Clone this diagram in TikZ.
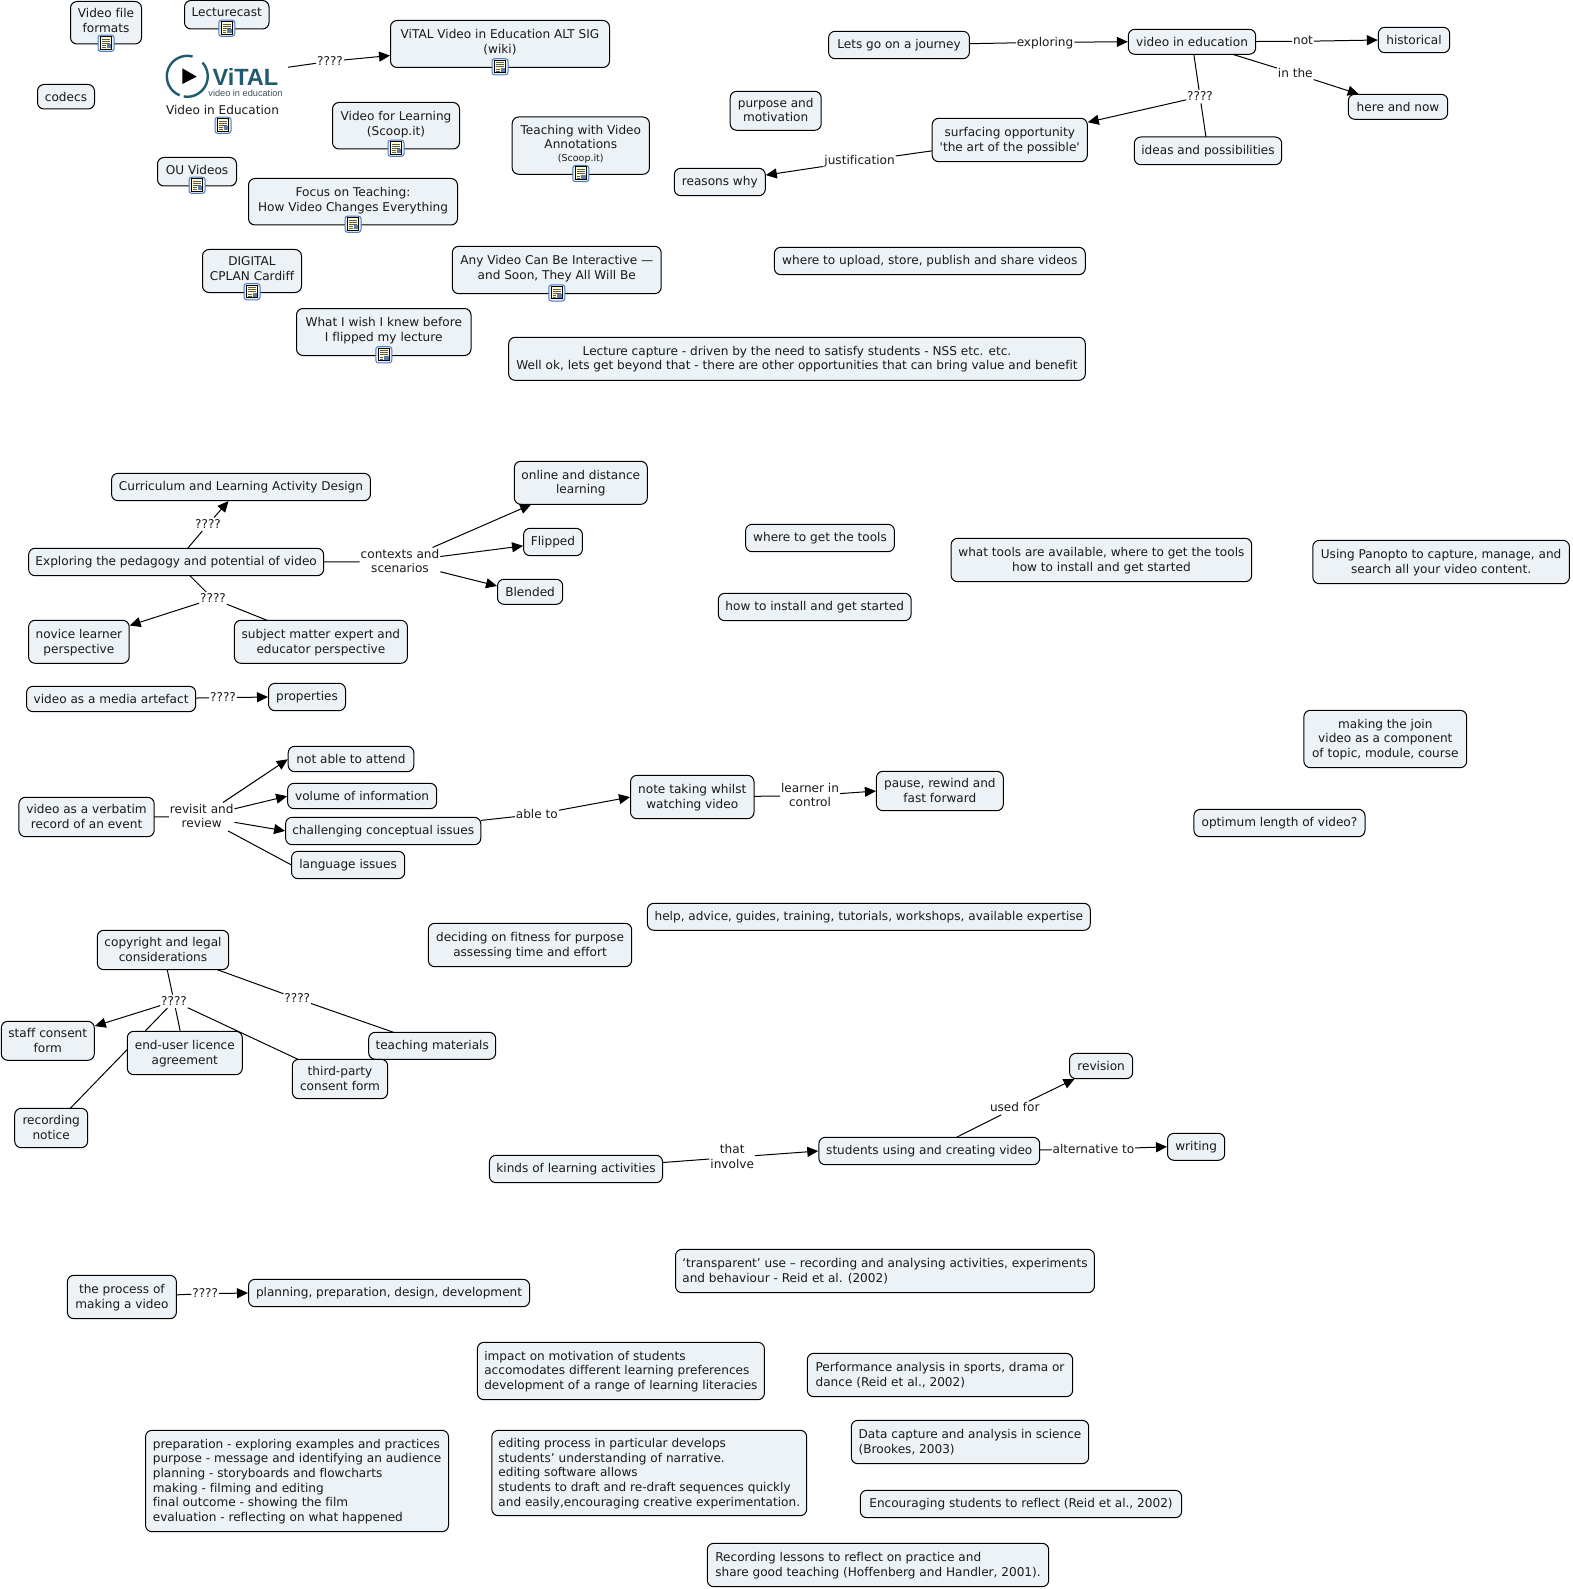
\documentclass[tikz,border=0pt]{standalone}
\usepackage{fontspec}
\newfontfamily\cmapfont{DejaVu Sans}[Ligatures=NoCommon]
\newfontfamily\logofont{Liberation Sans}
\usetikzlibrary{arrows.meta,backgrounds}
\definecolor{conceptfill}{HTML}{ECF2F5}
\definecolor{logoteal}{HTML}{1F5A6E}
\definecolor{logogrey}{HTML}{3D4F58}
\definecolor{iconblue}{HTML}{4A7CC4}
\tikzset{
  concept/.style={draw=black, line width=1pt, fill=conceptfill, rounded corners=6.5pt, align=center, inner sep=0pt, text=black!90, text depth=1.5pt, font=\cmapfont\fontsize{12.1}{14.7}\selectfont},
  iconbox/.style={concept, text depth=4.5pt},
  shortbox/.style={concept, text depth=0pt},
  leftbox/.style={concept, align=left},
  linklabel/.style={align=center, inner xsep=1pt, inner ysep=1.5pt, text=black!90, text depth=1.5pt, font=\cmapfont\fontsize{12.1}{14.7}\selectfont},
  plainlink/.style={draw=black, line width=1pt},
  arrowlink/.style={plainlink, -{Triangle[length=11pt,width=10pt]}, shorten >=0.5pt},
  resicon/.pic={
    \draw[draw=iconblue, fill=iconblue!12, line width=1pt, rounded corners=2.5pt] (-8,-7.3) rectangle (8,8.8);
    \draw[draw=black, fill=yellow!18, line width=0.7pt] (-5.5,-5) rectangle (5.5,7.5);
    \fill[iconblue!60!gray] (0.5,-4.5) rectangle (5,-0.5);
    \draw[black!65, line width=0.5pt] (-4,-3.5) -- (-0.5,-3.5) (-4,-1.5) -- (-0.5,-1.5) (-4,0.8) -- (4,0.8) (-4,2.8) -- (4,2.8) (-4,4.8) -- (4,4.8);
  }
}
\begin{document}
\begin{tikzpicture}[x=1pt, y=1pt, yscale=-1, inner sep=0pt, outer sep=0pt]
\useasboundingbox (0,0) rectangle (1572,1589);
\node[iconbox, minimum width=71pt, minimum height=42.5pt] (vff) at (106,22.75) {Video file\\formats};
\node[iconbox, minimum width=84.5pt, minimum height=28.5pt] (lecturecast) at (226.75,14.75) {Lecturecast};
\node[shortbox, minimum width=57pt, minimum height=24.5pt] (codecs) at (66,96.75) {codecs};
\node[minimum width=123pt, minimum height=48pt] (vital) at (226.5,76) {};
\node[linklabel, inner sep=0pt] (vitaltext) at (222.5,110.5) {Video in Education};
\node[iconbox, minimum width=127pt, minimum height=46.5pt] (vfl) at (396,125.75) {Video for Learning\\(Scoop.it)};
\node[iconbox, minimum width=79pt, minimum height=28.5pt] (ouvideos) at (197,171.75) {OU Videos};
\node[iconbox, minimum width=209pt, minimum height=46.5pt] (focus) at (353,201.75) {Focus on Teaching:\\How Video Changes Everything};
\node[iconbox, minimum width=99pt, minimum height=43pt] (digital) at (252,271) {DIGITAL\\CPLAN Cardiff};
\node[iconbox, minimum width=174.5pt, minimum height=47pt] (wish) at (383.75,332) {What I wish I knew before\\I flipped my lecture};
\node[iconbox, minimum width=219pt, minimum height=47pt] (wiki) at (500,44) {ViTAL Video in Education ALT SIG\\(wiki)};
\node[iconbox, minimum width=137.2pt, minimum height=57.3pt] (teaching) at (580.8,145.65) {Teaching with Video\\Annotations\\[-2pt]{\fontsize{9.5}{11}\selectfont (Scoop.it)}};
\node[iconbox, minimum width=208.9pt, minimum height=47.4pt] (anyvideo) at (556.75,270) {Any Video Can Be Interactive —\\and Soon, They All Will Be};
\node[concept, minimum width=576.7pt, minimum height=43pt] (capture) at (797,358.8) {Lecture capture - driven by the need to satisfy students - NSS etc. etc.\\Well ok, lets get beyond that - there are other opportunities that can bring value and benefit};
\node[concept, minimum width=140.8pt, minimum height=27.4pt] (journey) at (899,45) {Lets go on a journey};
\node[concept, minimum width=91pt, minimum height=39pt] (purpose) at (775.7,110.8) {purpose and\\motivation};
\node[concept, minimum width=155.1pt, minimum height=43.4pt] (surfacing) at (1009.75,140) {surfacing opportunity\\'the art of the possible'};
\node[concept, minimum width=91pt, minimum height=27.4pt] (reasons) at (719.8,182) {reasons why};
\node[concept, minimum width=311pt, minimum height=27.4pt] (upload) at (929.8,261) {where to upload, store, publish and share videos};
\node[shortbox, minimum width=127.4pt, minimum height=25pt] (videdu) at (1192,41.8) {video in education};
\node[shortbox, minimum width=71.4pt, minimum height=25.4pt] (historical) at (1414,40) {historical};
\node[shortbox, minimum width=99.4pt, minimum height=25pt] (herenow) at (1398,106.8) {here and now};
\node[concept, minimum width=147.4pt, minimum height=27.7pt] (ideas) at (1208,150.85) {ideas and possibilities};
\node[concept, minimum width=258.9pt, minimum height=27.4pt] (curriculum) at (241,487) {Curriculum and Learning Activity Design};
\node[concept, minimum width=295.1pt, minimum height=27.4pt] (exploring) at (176.15,562) {Exploring the pedagogy and potential of video};
\node[concept, minimum width=133pt, minimum height=43pt] (online) at (580.8,482.8) {online and distance\\learning};
\node[concept, minimum width=58.9pt, minimum height=27.4pt] (flipped) at (553,542) {Flipped};
\node[shortbox, minimum width=65.2pt, minimum height=25pt] (blended) at (530.1,591.8) {Blended};
\node[concept, minimum width=100.6pt, minimum height=43pt] (novice) at (78.9,641.8) {novice learner\\perspective};
\node[concept, minimum width=173pt, minimum height=43pt] (subject) at (320.9,641.8) {subject matter expert and\\educator perspective};
\node[shortbox, minimum width=169.2pt, minimum height=25.4pt] (media) at (111.1,699) {video as a media artefact};
\node[concept, minimum width=77pt, minimum height=27.4pt] (properties) at (307,697) {properties};
\node[concept, minimum width=135.3pt, minimum height=39.4pt] (verbatim) at (86.55,817) {video as a verbatim\\record of an event};
\node[shortbox, minimum width=125.6pt, minimum height=25.4pt] (notable) at (351,759) {not able to attend};
\node[shortbox, minimum width=149pt, minimum height=25.4pt] (volume) at (362.1,796) {volume of information};
\node[concept, minimum width=195.2pt, minimum height=27.4pt] (challenging) at (383.2,831) {challenging conceptual issues};
\node[concept, minimum width=113.2pt, minimum height=27.4pt] (language) at (348.1,865) {language issues};
\node[concept, minimum width=123.5pt, minimum height=43.4pt] (notetaking) at (692.25,797) {note taking whilst\\watching video};
\node[concept, minimum width=126.9pt, minimum height=39.4pt] (pause) at (939.85,791) {pause, rewind and\\fast forward};
\node[concept, minimum width=442.9pt, minimum height=27pt] (help) at (868.85,916.8) {help, advice, guides, training, tutorials, workshops, available expertise};
\node[concept, minimum width=203.4pt, minimum height=43.4pt] (deciding) at (530,945) {deciding on fitness for purpose\\assessing time and effort};
\node[concept, minimum width=131.4pt, minimum height=39.4pt] (copyright) at (163,950) {copyright and legal\\considerations};
\node[concept, minimum width=93pt, minimum height=39pt] (staff) at (47.8,1040.8) {staff consent\\form};
\node[concept, minimum width=115pt, minimum height=43.4pt] (enduser) at (184.8,1053) {end-user licence\\agreement};
\node[concept, minimum width=73pt, minimum height=39.4pt] (recording) at (51.2,1128) {recording\\notice};
\node[concept, minimum width=127pt, minimum height=27pt] (teachmat) at (432.2,1045.8) {teaching materials};
\node[concept, minimum width=95.4pt, minimum height=39.4pt] (thirdparty) at (340,1079) {third-party\\consent form};
\node[concept, minimum width=148.8pt, minimum height=27.4pt] (wheretools) at (820,538) {where to get the tools};
\node[concept, minimum width=300.6pt, minimum height=43.4pt] (whattools) at (1101.4,560) {what tools are available, where to get the tools\\how to install and get started};
\node[concept, minimum width=256.6pt, minimum height=43.4pt] (panopto) at (1441.1,562) {Using Panopto to capture, manage, and\\search all your video content.};
\node[concept, minimum width=192.8pt, minimum height=27.4pt] (install) at (814.7,607) {how to install and get started};
\node[concept, minimum width=162.8pt, minimum height=57.4pt] (makingjoin) at (1385.3,739) {making the join\\video as a component\\of topic, module, course};
\node[concept, minimum width=171.1pt, minimum height=27.4pt] (optimum) at (1279.45,823) {optimum length of video?};
\node[concept, minimum width=173.1pt, minimum height=27.4pt] (kinds) at (576,1169) {kinds of learning activities};
\node[concept, minimum width=220.9pt, minimum height=27.4pt] (students) at (929.25,1151) {students using and creating video};
\node[shortbox, minimum width=63.2pt, minimum height=25.4pt] (revision) at (1101.1,1066) {revision};
\node[concept, minimum width=57.2pt, minimum height=27pt] (writing) at (1196.1,1146.8) {writing};
\node[leftbox, minimum width=418.9pt, minimum height=43.4pt] (transparent) at (884.95,1271) {‘transparent’ use – recording and analysing activities, experiments\\and behaviour - Reid et al. (2002)};
\node[concept, minimum width=109pt, minimum height=43.4pt] (process) at (121.9,1297) {the process of\\making a video};
\node[concept, minimum width=281.1pt, minimum height=27.4pt] (planning) at (389.05,1293) {planning, preparation, design, development};
\node[leftbox, minimum width=287pt, minimum height=57.4pt] (impact) at (620.9,1371) {impact on motivation of students\\accomodates different learning preferences\\development of a range of learning literacies};
\node[leftbox, minimum width=303pt, minimum height=101.4pt] (preparation) at (297,1481) {preparation - exploring examples and practices\\purpose - message and identifying an audience\\planning - storyboards and flowcharts\\making - filming and editing\\final outcome - showing the film\\evaluation - reflecting on what happened};
\node[leftbox, minimum width=314.9pt, minimum height=85.4pt] (editing) at (649.25,1473) {editing process in particular develops\\students’ understanding of narrative.\\editing software allows\\students to draft and re-draft sequences quickly\\and easily,encouraging creative experimentation.};
\node[leftbox, minimum width=265.4pt, minimum height=43.4pt] (performance) at (940,1375) {Performance analysis in sports, drama or\\dance (Reid et al., 2002)};
\node[leftbox, minimum width=237.4pt, minimum height=43.4pt] (datacapture) at (970,1442) {Data capture and analysis in science\\(Brookes, 2003)};
\node[leftbox, minimum width=321.4pt, minimum height=27.4pt] (encouraging) at (1021,1504) {Encouraging students to reflect (Reid et al., 2002)};
\node[leftbox, minimum width=341.4pt, minimum height=43.4pt] (lessons) at (878,1565) {Recording lessons to reflect on practice and\\share good teaching (Hoffenberg and Handler, 2001).};
\node[linklabel] (qvital) at (330,61.3) {????};
\node[linklabel] (exploringlabel) at (1045,42.3) {exploring};
\node[linklabel] (notlabel) at (1303,41.3) {not};
\node[linklabel] (inthe) at (1295.3,73.7) {in the};
\node[linklabel] (qideas) at (1200,96.7) {????};
\node[linklabel] (justification) at (859.6,161) {justification};
\node[linklabel] (qcurriculum) at (208,524.3) {????};
\node[linklabel] (qnovice) at (213,598.7) {????};
\node[linklabel] (contexts) at (400,561.7) {contexts and\\scenarios};
\node[linklabel] (qmedia) at (223,697.7) {????};
\node[linklabel] (revisit) at (201.7,816.7) {revisit and\\review};
\node[linklabel] (ableto) at (536.8,814.3) {able to};
\node[linklabel] (learner) at (810,795.7) {learner in\\control};
\node[linklabel] (qstaff) at (174,1001.3) {????};
\node[linklabel] (qteach) at (297.3,998.7) {????};
\node[linklabel] (involve) at (732.2,1157.3) {that\\involve};
\node[linklabel] (usedfor) at (1014.8,1108) {used for};
\node[linklabel] (alternative) at (1093.4,1149.3) {alternative to};
\node[linklabel] (qprocess) at (205.2,1293.7) {????};
\draw[logoteal, line width=2.4pt] (187.3,76.3) ++(112:20.5) arc[start angle=112, end angle=285, radius=20.5];
\draw[logoteal, line width=2.4pt] (187.3,76.3) ++(100:20.5) arc[start angle=100, end angle=-42, radius=20.5];
\fill[black] (182.3,68.3) -- (196.7,76.7) -- (182.3,84) -- cycle;
\node[anchor=base west, text=logoteal, font=\logofont\bfseries\fontsize{23.5}{24}\selectfont] (vitalword) at (212.5,85.7) {ViTAL};
\node[anchor=base, text=logogrey, font=\logofont\fontsize{9.2}{10}\selectfont] (vitalsub) at (245.5,96.5) {video in education};
\pic at (vff.south) {resicon};
\pic at (lecturecast.south) {resicon};
\pic at (223,126) {resicon};
\pic at (vfl.south) {resicon};
\pic at (ouvideos.south) {resicon};
\pic at (focus.south) {resicon};
\pic at (digital.south) {resicon};
\pic at (wish.south) {resicon};
\pic at (wiki.south) {resicon};
\pic at (teaching.south) {resicon};
\pic at (anyvideo.south) {resicon};
\begin{scope}[on background layer]
  \draw[plainlink] (vital) -- (qvital);
  \draw[arrowlink] (qvital) -- (wiki.186);
  \draw[plainlink] (journey) -- (exploringlabel);
  \draw[arrowlink] (exploringlabel) -- (videdu.west);
  \draw[plainlink] (videdu) -- (notlabel);
  \draw[arrowlink] (notlabel) -- (historical.west);
  \draw[plainlink] (videdu) -- (inthe);
  \draw[arrowlink] (inthe) -- (herenow);
  \draw[plainlink] (videdu) -- (qideas);
  \draw[plainlink] (qideas) -- (ideas);
  \draw[arrowlink] (qideas) -- (surfacing);
  \draw[plainlink] (surfacing) -- (justification);
  \draw[arrowlink] (justification) -- (reasons);
  \draw[plainlink] (exploring) -- (qcurriculum);
  \draw[arrowlink] (qcurriculum) -- (curriculum);
  \draw[plainlink] (exploring) -- (qnovice);
  \draw[arrowlink] (qnovice) -- (novice);
  \draw[plainlink] (qnovice) -- (subject);
  \draw[plainlink] (exploring) -- (contexts);
  \draw[arrowlink] (contexts) -- (online);
  \draw[arrowlink] (contexts) -- (flipped);
  \draw[arrowlink] (contexts) -- (blended.170);
  \draw[plainlink] (media) -- (qmedia);
  \draw[arrowlink] (qmedia) -- (properties.west);
  \draw[plainlink] (verbatim) -- (revisit);
  \draw[arrowlink] (revisit) -- (notable.west);
  \draw[arrowlink] (revisit) -- (volume.west);
  \draw[arrowlink] (revisit) -- (challenging.west);
  \draw[plainlink] (revisit) -- (language.west);
  \draw[plainlink] (challenging) -- (ableto);
  \draw[arrowlink] (ableto) -- (notetaking.west);
  \draw[plainlink] (notetaking) -- (learner);
  \draw[arrowlink] (learner) -- (pause.west);
  \draw[plainlink] (copyright) -- (qstaff);
  \draw[arrowlink] (qstaff) -- (staff);
  \draw[plainlink] (qstaff) -- (enduser);
  \draw[plainlink] (qstaff) -- (recording);
  \draw[plainlink] (qstaff) -- (thirdparty);
  \draw[plainlink] (copyright) -- (qteach);
  \draw[plainlink] (qteach) -- (teachmat);
  \draw[plainlink] (kinds) -- (involve);
  \draw[arrowlink] (involve) -- (students.west);
  \draw[plainlink] (students) -- (usedfor);
  \draw[arrowlink] (usedfor) -- (revision);
  \draw[plainlink] (students) -- (alternative);
  \draw[arrowlink] (alternative) -- (writing.west);
  \draw[plainlink] (process) -- (qprocess);
  \draw[arrowlink] (qprocess) -- (planning.west);
\end{scope}
\end{tikzpicture}
\end{document}
